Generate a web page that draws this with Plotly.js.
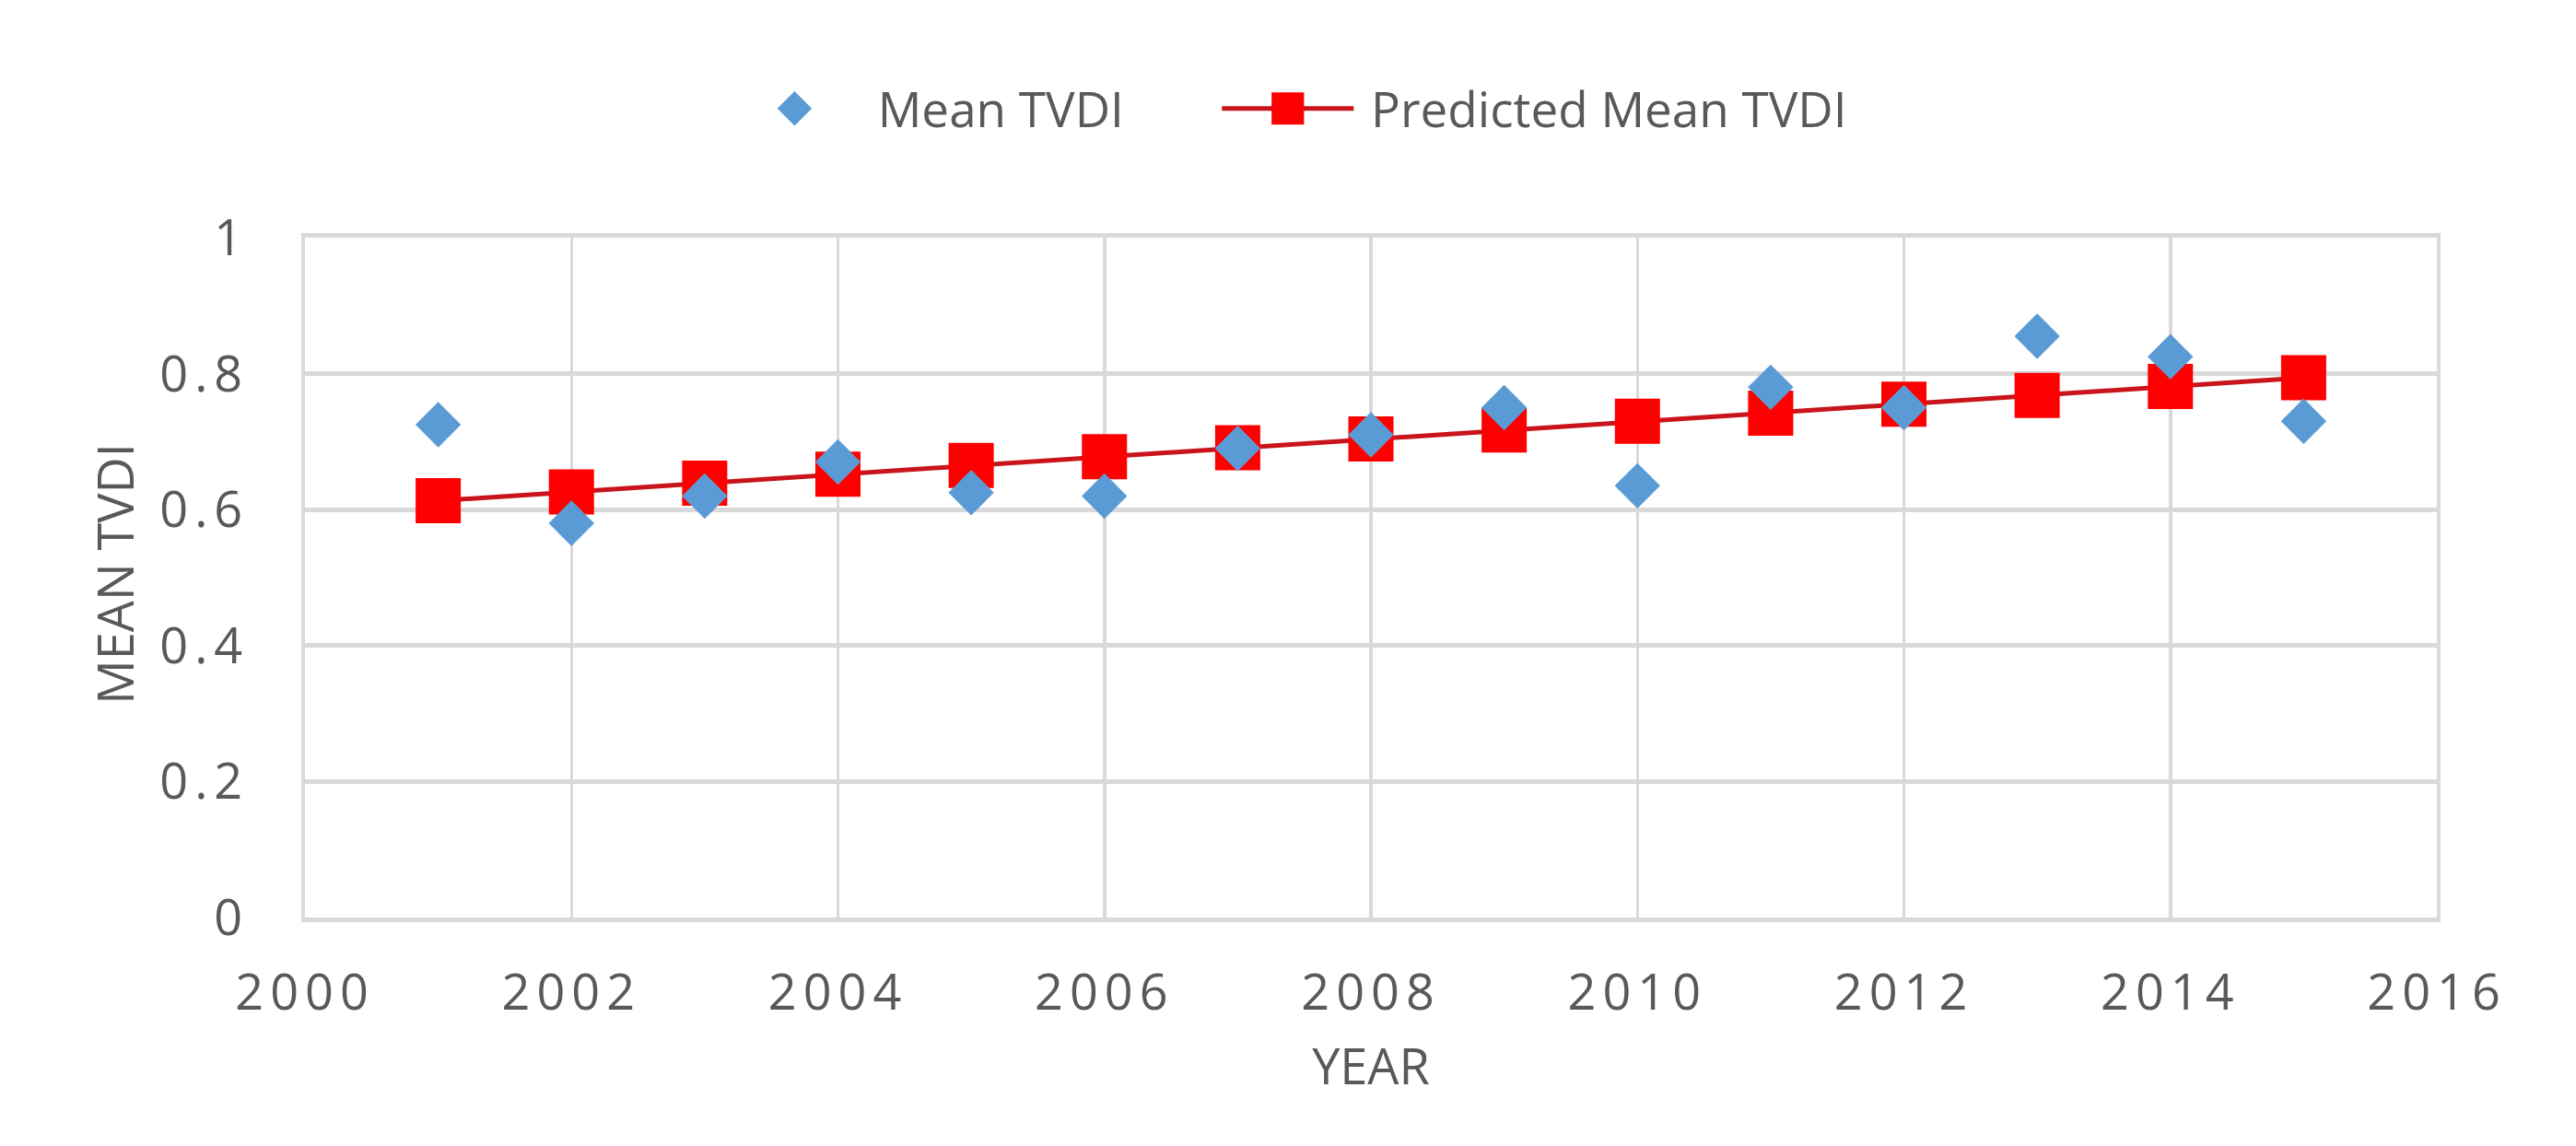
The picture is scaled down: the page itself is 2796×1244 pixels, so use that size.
<!DOCTYPE html>
<html>
<head>
<meta charset="utf-8">
<script src="https://cdn.plot.ly/plotly-3.0.1.min.js"></script>
<style>
  html, body { margin: 0; padding: 0; background: #ffffff; }
  #chart { width: 2796px; height: 1244px; }
  .xtick text, .ytick text { letter-spacing: 7px; }
</style>
</head>
<body>
<div id="chart"></div>
<script>
const years = [2001, 2002, 2003, 2004, 2005, 2006, 2007, 2008, 2009, 2010, 2011, 2012, 2013, 2014, 2015];
const meanTVDI = [0.725, 0.58, 0.62, 0.67, 0.625, 0.62, 0.69, 0.71, 0.75, 0.635, 0.78, 0.75, 0.855, 0.825, 0.73];
const predictedTVDI = [0.613, 0.626, 0.639, 0.652, 0.665, 0.678, 0.691, 0.704, 0.717, 0.73, 0.742, 0.755, 0.768, 0.781, 0.794];
const xTicks = [2000, 2002, 2004, 2006, 2008, 2010, 2012, 2014, 2016];
const yTicks = [0, 0.2, 0.4, 0.6, 0.8, 1];
const yTickText = ['0', '0.2', '0.4', '0.6', '0.8', '1'];
const xTitle = 'YEAR';
const yTitle = 'MEAN TVDI';

const textColor = '#595959';
const gridColor = '#d9d9d9';
const fontFamily = '"Open Sans", "DejaVu Sans", sans-serif';
const nb = '\u00a0';

const traces = [
  {
    x: years, y: predictedTVDI, name: nb + 'Predicted Mean TVDI',
    type: 'scatter', mode: 'lines+markers',
    line: { color: '#c8141a', width: 5 },
    marker: { symbol: 'square', size: 49, color: '#ff0000', line: { width: 0 } },
    legendrank: 2
  },
  {
    x: years, y: meanTVDI, name: nb + 'Mean TVDI' + nb.repeat(7),
    type: 'scatter', mode: 'markers',
    marker: { symbol: 'diamond', size: 38, color: '#5b9bd5', line: { width: 0 } },
    legendrank: 1
  }
];

const layout = {
  width: 2796, height: 1244,
  margin: { l: 331, r: 151, t: 258, b: 248 },
  paper_bgcolor: '#ffffff', plot_bgcolor: '#ffffff',
  font: { family: fontFamily, color: textColor, size: 53 },
  showlegend: true,
  legend: {
    orientation: 'h', x: 0.1966, xanchor: 'left', y: 1.19, yanchor: 'middle',
    font: { family: fontFamily, size: 53, color: textColor },
    itemwidth: 143, bgcolor: 'rgba(0,0,0,0)', traceorder: 'normal'
  },
  xaxis: {
    range: [2000, 2016], tickmode: 'array', tickvals: xTicks, ticktext: xTicks.map(String),
    showgrid: true, gridcolor: gridColor, gridwidth: 3.5,
    showline: true, mirror: true, linecolor: gridColor, linewidth: 5,
    zeroline: false, ticks: '', ticklabelstandoff: 30,
    tickfont: { family: fontFamily, size: 54, color: textColor },
    title: { text: xTitle, font: { family: fontFamily, size: 54, color: textColor }, standoff: 30 }
  },
  yaxis: {
    range: [0, 1], tickmode: 'array', tickvals: yTicks, ticktext: yTickText,
    showgrid: true, gridcolor: gridColor, gridwidth: 5,
    showline: true, mirror: true, linecolor: gridColor, linewidth: 4,
    zeroline: false, ticks: '', ticklabelstandoff: 46,
    tickfont: { family: fontFamily, size: 54, color: textColor }
  },
  annotations: [
    {
      text: yTitle, xref: 'paper', yref: 'paper', x: -0.0794, y: 0.506, xshift: -24,
      xanchor: 'center', yanchor: 'middle', textangle: -90, showarrow: false,
      font: { family: fontFamily, size: 54, color: textColor }
    }
  ]
};

Plotly.newPlot('chart', traces, layout, { displayModeBar: false, staticPlot: true }).then(function () {
  document.querySelectorAll('.legend .traces').forEach(function (g) {
    const label = g.textContent || '';
    const s = label.indexOf('Predicted') >= 0 ? 2.2 : 1.8;
    g.querySelectorAll('.legendpoints path.scatterpts').forEach(function (p) {
      const t = p.getAttribute('transform') || '';
      p.setAttribute('transform', t + ' scale(' + s + ')');
    });
  });
});
</script>
</body>
</html>
